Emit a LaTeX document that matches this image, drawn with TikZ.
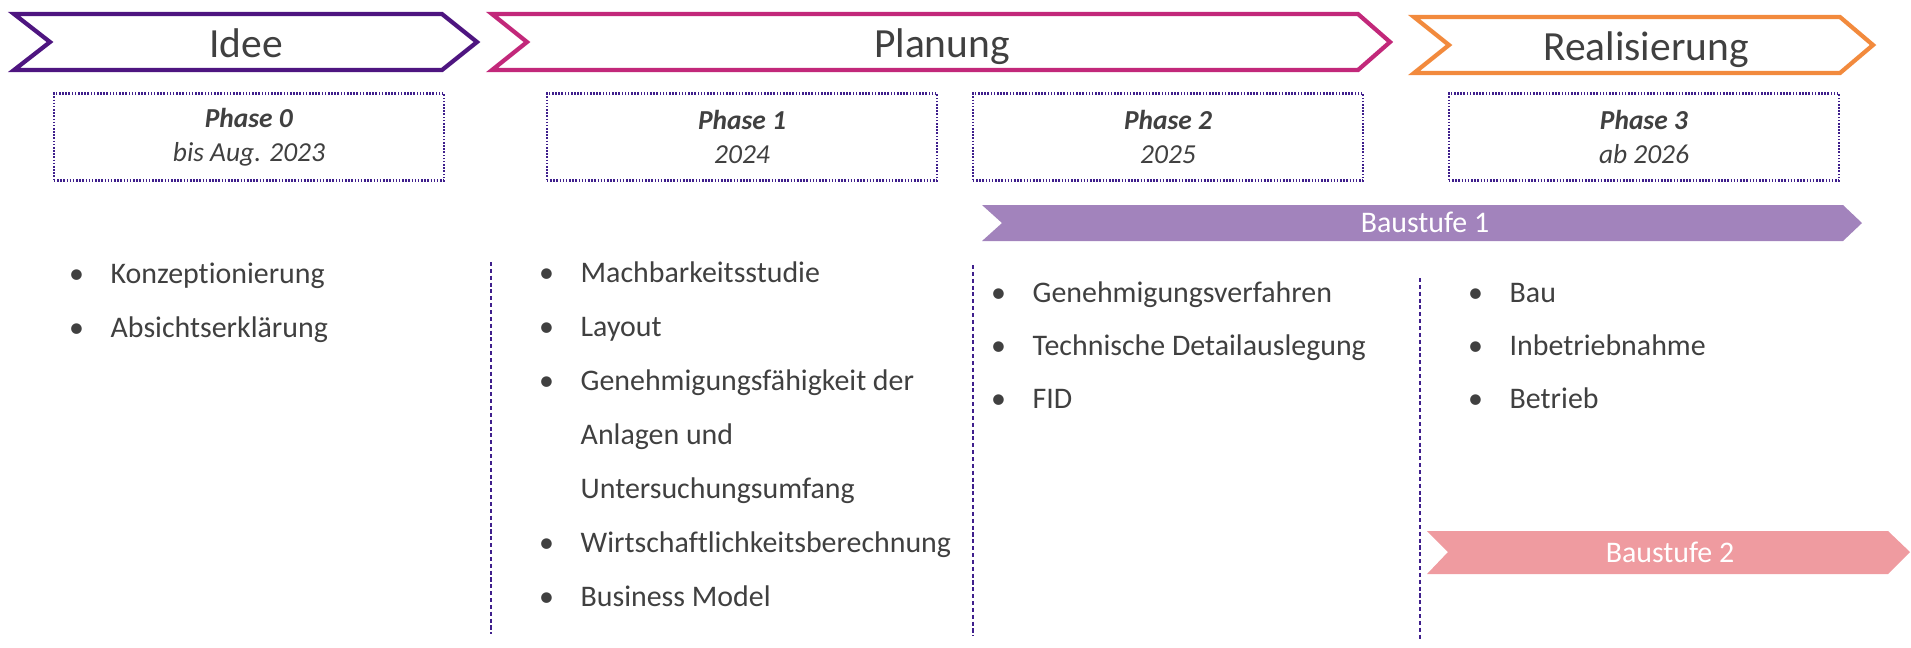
\documentclass[tikz,border=0pt]{standalone}
\usepackage{fontspec}
\setmainfont{Carlito}[Ligatures={NoCommon}]

\definecolor{ideecol}{HTML}{4E1580}
\definecolor{plancol}{HTML}{C2287A}
\definecolor{realcol}{HTML}{F28A3D}
\definecolor{linecol}{HTML}{3F1F8C}
\definecolor{stufeone}{HTML}{A283BC}
\definecolor{stufetwo}{HTML}{EF9BA0}
\definecolor{txtgray}{HTML}{404040}

\tikzset{
  stage/.style={line width=1.2pt, line join=miter, fill=white},
  stagetext/.style={anchor=base, inner sep=0pt, text=txtgray, font=\fontsize{11.8}{14}\selectfont},
  phasebox/.style={draw=linecol, line width=0.65pt, dash pattern=on 0.45pt off 0.45pt,
    minimum width=3.9cm, minimum height=0.87cm, inner sep=0pt, align=center,
    text=txtgray, font=\fontsize{7.8}{9.7}\selectfont},
  bandtext/.style={anchor=base, inner sep=0pt, text=white, font=\fontsize{8.5}{10}\selectfont},
  item/.style={anchor=base west, inner sep=0pt, text=txtgray, font=\fontsize{8.5}{10}\selectfont},
  colsep/.style={draw=linecol, line width=0.75pt, dash pattern=on 1.15pt off 0.8pt}
}
\newcommand{\itembullet}{\llap{\textbullet\hspace{0.267cm}}}

\begin{document}
\begin{tikzpicture}[x=0.01cm, y=-0.01cm]
    \useasboundingbox (0,0) rectangle (1911,647);

    % Stage chevrons
    \draw[stage, draw=ideecol] (14,14) -- (442,14) -- (477,42) -- (442,70) -- (14,70) -- (50,42) -- cycle;
    \draw[stage, draw=plancol] (492,14) -- (1358,14) -- (1390,42) -- (1358,70) -- (492,70) -- (527,42) -- cycle;
    \draw[stage, draw=realcol] (1414,17) -- (1840,17) -- (1873,45) -- (1840,73) -- (1414,73) -- (1449,45) -- cycle;
    \node[stagetext] (idee) at (246,57) {Idee};
    \node[stagetext] (planung) at (942,57) {Planung};
    \node[stagetext] (real) at (1646,60) {Realisierung};

    % Phase boxes
    \node[phasebox] (ph0) at (249,137) {\textbf{\textit{Phase 0}}\\ \textit{bis Aug. 2023}};
    \node[phasebox] (ph1) at (742,137) {\textbf{\textit{Phase 1}}\\ \textit{2024}};
    \node[phasebox] (ph2) at (1168,137) {\textbf{\textit{Phase 2}}\\ \textit{2025}};
    \node[phasebox] (ph3) at (1644,137) {\textbf{\textit{Phase 3}}\\ \textit{ab 2026}};

    % Baustufen
    \fill[stufeone] (982,205) -- (1843,205) -- (1862,223) -- (1843,241) -- (982,241) -- (1002,223) -- cycle;
    \node[bandtext] (bs1) at (1425,232) {Baustufe 1};
    \fill[stufetwo] (1427,531) -- (1888,531) -- (1910,552) -- (1888,574) -- (1427,574) -- (1448,552) -- cycle;
    \node[bandtext] (bs2) at (1670,562) {Baustufe 2};

    % Column separators
    \draw[colsep] (491,262) -- (491,634);
    \draw[colsep] (973,265) -- (973,636);
    \draw[colsep] (1420,278) -- (1420,640);

    % Phase 0 items
    \node[item] (k1) at (110,283) {\itembullet Konzeptionierung};
    \node[item] (k2) at (110,337) {\itembullet Absichtserklärung};

    % Phase 1 items
    \node[item] (p1) at (580,282) {\itembullet Machbarkeitsstudie};
    \node[item] (p2) at (580,336) {\itembullet Layout};
    \node[item] (p3) at (580,390) {\itembullet Genehmigungsfähigkeit der};
    \node[item] (p3b) at (580,444) {Anlagen und};
    \node[item] (p3c) at (580,498) {Untersuchungsumfang};
    \node[item] (p4) at (580,552) {\itembullet Wirtschaftlichkeitsberechnung};
    \node[item] (p5) at (580,606) {\itembullet Business Model};

    % Phase 2 items
    \node[item] (g1) at (1032,302) {\itembullet Genehmigungsverfahren};
    \node[item] (g2) at (1032,355) {\itembullet Technische Detailauslegung};
    \node[item] (g3) at (1032,408) {\itembullet FID};

    % Phase 3 items
    \node[item] (r1) at (1509,302) {\itembullet Bau};
    \node[item] (r2) at (1509,355) {\itembullet Inbetriebnahme};
    \node[item] (r3) at (1509,408) {\itembullet Betrieb};
\end{tikzpicture}
\end{document}
